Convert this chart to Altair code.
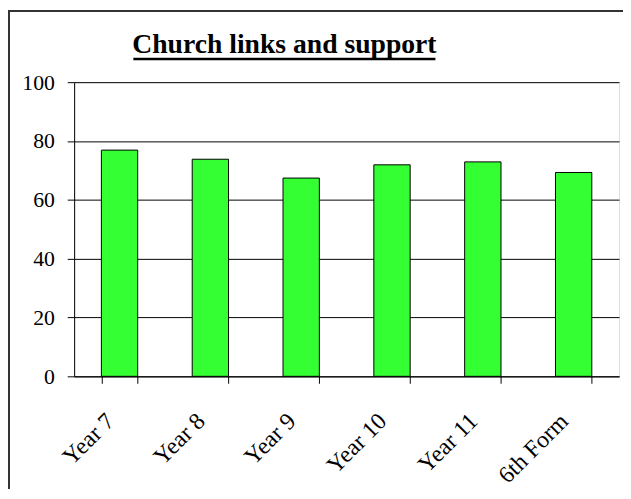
import altair as alt
import pandas as pd

categories = ["Year 7", "Year 8", "Year 9", "Year 10", "Year 11", "6th Form"]
values = [76.9, 73.8, 67.4, 71.9, 72.9, 69.3]
y_ticks = [0, 20, 40, 60, 80, 100]
title_text = "Church links and support"

FONT = "Liberation Serif"
W, H = 552, 298

df = pd.DataFrame({"group": categories, "value": values})
one = alt.Data(values=[{"k": 0}])

border = alt.Chart(one).mark_rect(
    fill="white", fillOpacity=0, stroke="#333333", strokeWidth=2
).encode(
    x=alt.value(-66), x2=alt.value(W + 300), y=alt.value(-72), y2=alt.value(H + 300)
)

bars = alt.Chart(df).mark_bar(
    fill="#33ff33", stroke="black", strokeWidth=1
).encode(
    x=alt.X(
        "group:N",
        sort=categories,
        scale=alt.Scale(paddingInner=0.6, paddingOuter=0.3),
        axis=alt.Axis(
            title=None, labelAngle=-45, labelAlign="right", labelBaseline="top",
            tickBand="extent", tickSize=7, labelFont=FONT, labelFontSize=24,
            labelPadding=26, labelOffset=-18, labelColor="black",
            domainColor="black", tickColor="black", labelOverlap=False,
        ),
    ),
    y=alt.Y(
        "value:Q",
        scale=alt.Scale(domain=[0, 100]),
        axis=alt.Axis(
            title=None, values=y_ticks, grid=True, gridColor="black",
            gridWidth=1, tickSize=7, tickColor="black", domainColor="black",
            labelFont=FONT, labelFontSize=22, labelColor="black", labelPadding=13,
        ),
    ),
)

title = alt.Chart(one).mark_text(
    font=FONT, fontSize=28, fontWeight="bold", align="center",
    baseline="alphabetic", color="black"
).encode(
    x=alt.value(213), y=alt.value(-30), text=alt.value(title_text)
)

underline = alt.Chart(one).mark_rule(color="black", strokeWidth=2.5).encode(
    x=alt.value(60), x2=alt.value(366), y=alt.value(-23.5)
)

chart = alt.layer(border, bars, title, underline).properties(
    width=W, height=H,
    autosize=alt.AutoSizeParams(type="none"),
    padding={"left": 67, "top": 72, "right": 4, "bottom": 111},
).configure_view(strokeWidth=0).configure(background="white")

chart.save("out.html", embed_options={"renderer": "svg", "actions": False})
